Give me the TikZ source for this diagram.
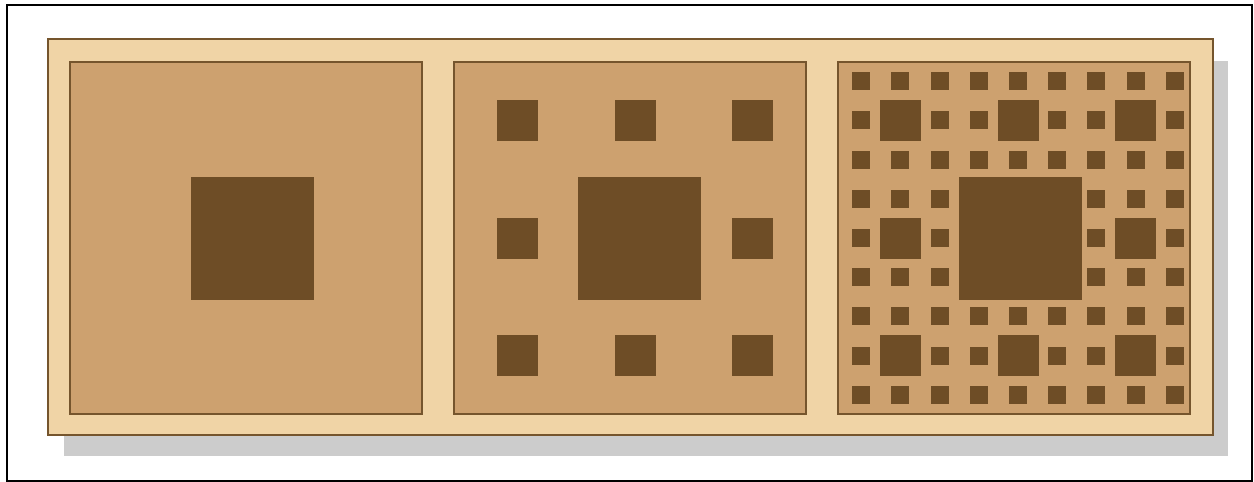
\documentclass[tikz,border=0pt]{standalone}
\usetikzlibrary{calc}
\usepackage{xcolor}
\definecolor{cpframe}{RGB}{117,85,45}
\definecolor{cppanel}{RGB}{240,212,166}
\definecolor{cpfill}{RGB}{205,161,111}
\definecolor{cpdark}{RGB}{110,77,38}
\definecolor{cpshadow}{RGB}{204,204,204}
\tikzset{
    panel/.style={
        draw=cpframe,line width=2.5pt,fill=cppanel
    },
    carpet/.style={
        draw=cpframe,line width=2.2pt,fill=cpfill
    },
    hole/.style={
        fill=cpdark
    }
}
\newcommand{\carpethole}[3]{\fill[hole] ({#1-#3/2},{#2-#3/2}) rectangle ++(#3,#3);}

\begin{document}
\begin{tikzpicture}[x=1pt,y=-1pt]

\useasboundingbox (0,0) rectangle (1254,482);

\draw[line width=2pt] (6.5,5) rectangle (1252,480.5);

\fill[cpshadow] (64,61) rectangle (1228,456);
\draw[panel] (48,39) rectangle (1213,435);

\draw[carpet] (70,62) rectangle (422,414);
\draw[carpet] (454,62) rectangle (806,414);
\draw[carpet] (838,62) rectangle (1190,414);

\carpethole{252.5}{238.3}{123}

\foreach \i in {-1,0,1}
  \foreach \j in {-1,0,1}
    {\carpethole{635+\i*117.5}{238+\j*117.5}{41}}
\carpethole{639.5}{238.3}{123}

\foreach \i in {-4,...,4}
  \foreach \j in {-4,...,4}
    {\carpethole{1018+\i*39.2}{238+\j*39.2}{18}}
\foreach \i in {-1,0,1}
  \foreach \j in {-1,0,1}
    {\carpethole{1018+\i*117.5}{238+\j*117.5}{41}}
\carpethole{1020.5}{238.3}{123}

\end{tikzpicture}
\end{document}
